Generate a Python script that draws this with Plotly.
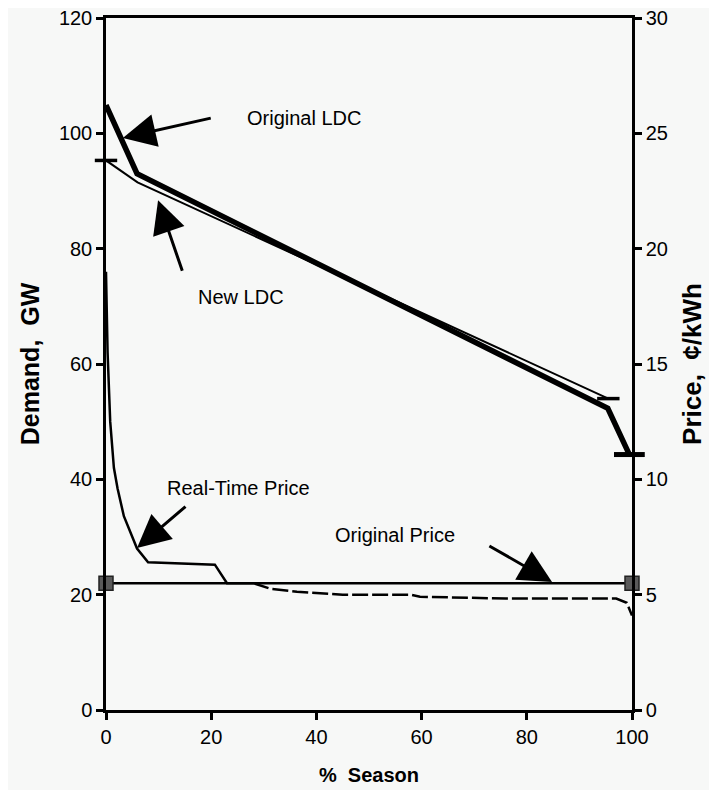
import plotly.graph_objects as go

# ---- data ----
season_orig_ldc = [0, 5.9, 95.4, 99.5]
demand_orig_ldc = [104.9, 93.0, 52.3, 44.3]

season_new_ldc = [0, 6.0, 95.5]
demand_new_ldc = [95.3, 91.5, 54.0]

season_rt_solid = [0, 0.3, 0.8, 1.5, 2.2, 3.4, 5.9, 8.0, 20.7, 23.0, 28.0]
price_rt_solid = [19.0, 15.5, 12.5, 10.5, 9.6, 8.4, 7.0, 6.4, 6.3, 5.5, 5.5]

season_rt_dash = [28.0, 31.2, 36.3, 45.0, 57.8, 59.7, 76.0, 97.0, 99.0, 100.0]
price_rt_dash = [5.5, 5.26, 5.13, 5.0, 5.0, 4.91, 4.83, 4.83, 4.65, 4.1]

season_orig_price = [0, 100]
price_orig_price = [5.5, 5.5]

x_ticks = [0, 20, 40, 60, 80, 100]
demand_ticks = [0, 20, 40, 60, 80, 100, 120]
price_ticks = [0, 5, 10, 15, 20, 25, 30]

FONT = "Liberation Sans, Arial, Helvetica, sans-serif"
BG = "#f7f8f7"

fig = go.Figure()

fig.add_trace(go.Scatter(x=season_rt_solid, y=price_rt_solid, yaxis="y2", mode="lines",
                         line=dict(color="black", width=2.5), showlegend=False))
fig.add_trace(go.Scatter(x=season_rt_dash, y=price_rt_dash, yaxis="y2", mode="lines",
                         line=dict(color="black", width=2.5, dash="16px,4px"), showlegend=False))
fig.add_trace(go.Scatter(x=season_orig_price, y=price_orig_price, yaxis="y2", mode="lines+markers",
                         line=dict(color="black", width=2.5), cliponaxis=False,
                         marker=dict(symbol="square", size=14, color="#5a5a5a",
                                     line=dict(color="#222222", width=1.5)),
                         showlegend=False))
fig.add_trace(go.Scatter(x=season_orig_ldc, y=demand_orig_ldc, mode="lines",
                         line=dict(color="black", width=5.5), showlegend=False))
fig.add_trace(go.Scatter(x=[season_orig_ldc[-1]], y=[demand_orig_ldc[-1]], mode="markers",
                         cliponaxis=False,
                         marker=dict(symbol="line-ew", size=22, line=dict(color="black", width=5)),
                         showlegend=False))
fig.add_trace(go.Scatter(x=season_new_ldc, y=demand_new_ldc, mode="lines",
                         line=dict(color="black", width=2), showlegend=False))
fig.add_trace(go.Scatter(x=[season_new_ldc[0], season_new_ldc[-1]],
                         y=[demand_new_ldc[0], demand_new_ldc[-1]], mode="markers",
                         cliponaxis=False,
                         marker=dict(symbol="line-ew", size=16, line=dict(color="black", width=3.5)),
                         showlegend=False))

axis_common = dict(showline=True, linecolor="black", linewidth=2.5, ticks="outside",
                   ticklen=7, tickwidth=2.5, tickcolor="black", showgrid=False, zeroline=False,
                   automargin=False, ticklabeloverflow="allow",
                   tickfont=dict(family=FONT, size=20, color="black"))

# page body has an 8px margin: figure is sized/offset to compensate
fig.update_layout(
    width=709, height=782,
    margin=dict(l=98, r=85, t=10, b=80, autoexpand=False),
    paper_bgcolor=BG, plot_bgcolor=BG,
    font=dict(family=FONT, color="black"),
    xaxis=dict(range=[0, 100], tickvals=x_ticks, mirror=True,
               title=dict(text="<b>%  Season</b>", font=dict(family=FONT, size=20), standoff=22),
               **axis_common),
    yaxis=dict(range=[0, 120], tickvals=demand_ticks,
               title=dict(text="<b>Demand,  GW</b>", font=dict(family=FONT, size=25), standoff=13),
               **axis_common),
    yaxis2=dict(range=[0, 30], tickvals=price_ticks, overlaying="y", side="right",
                title=dict(text="<b>Price,  ¢/kWh</b>", font=dict(family=FONT, size=26), standoff=16),
                **axis_common),
)

# arrows (tail -> head, in data coordinates of the demand axis)
arrows = [
    (20.2, 102.7, 3.2, 99.2),
    (14.6, 75.9, 9.9, 88.4),
    (15.4, 35.5, 5.9, 28.1),
    (72.6, 28.6, 84.8, 22.2),
]
for ax_, ay_, x_, y_ in arrows:
    fig.add_annotation(x=x_, y=y_, ax=ax_, ay=ay_, xref="x", yref="y", axref="x", ayref="y",
                       text="", showarrow=True, arrowhead=2, arrowsize=2.2, arrowwidth=3,
                       arrowcolor="black", standoff=0, startstandoff=0)

labels = [
    ("Original LDC", 26.4, 102.7),
    ("New LDC", 17.1, 71.6),
    ("Real-Time Price", 11.2, 38.5),
    ("Original Price", 43.2, 30.3),
]
for t, x_, y_ in labels:
    fig.add_annotation(x=x_, y=y_, xref="x", yref="y", text=t, showarrow=False,
                       xanchor="left", yanchor="middle",
                       font=dict(family=FONT, size=20, color="black"))

fig.write_html("out.html")
